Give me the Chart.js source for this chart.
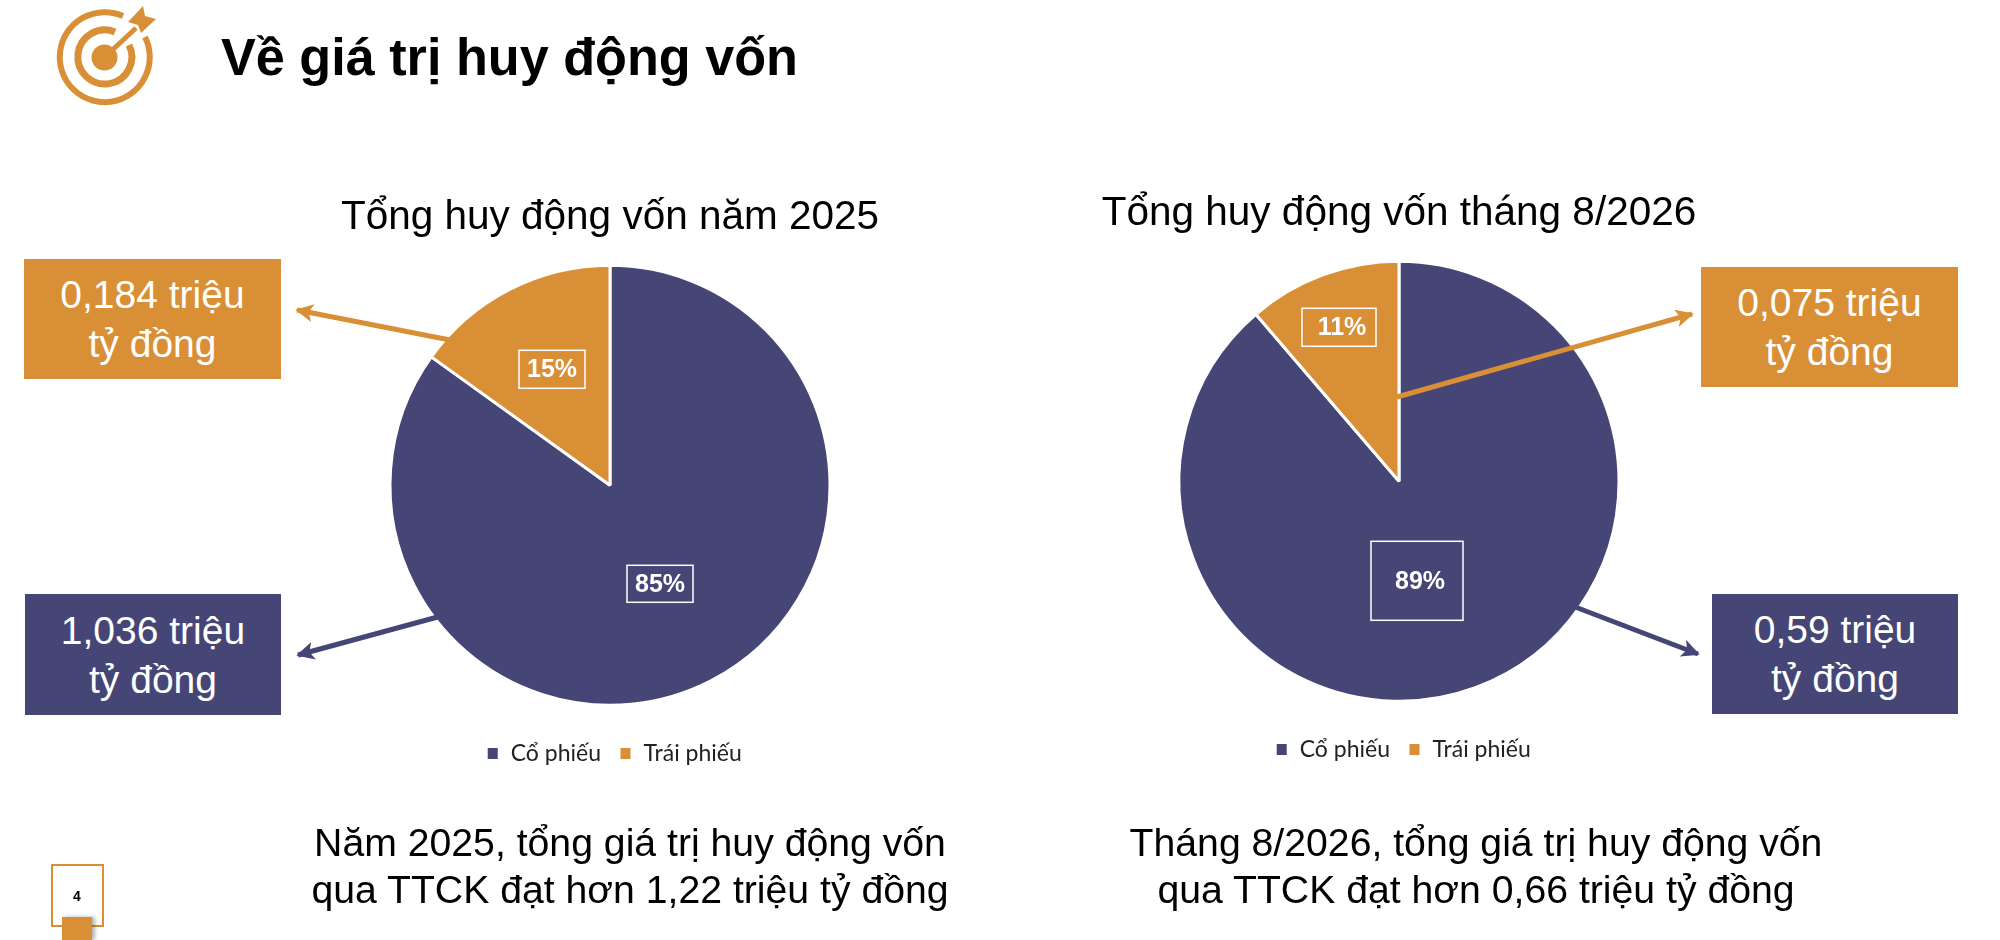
<!DOCTYPE html>
<html lang="vi">
<head>
<meta charset="utf-8">
<title>Về giá trị huy động vốn</title>
<script src="https://cdn.jsdelivr.net/npm/chart.js@4"></script>
<style>
  html, body { margin: 0; padding: 0; background: #fff; }
  body { position: relative; width: 2000px; height: 940px; overflow: hidden; font-family: "Liberation Sans", Arial, sans-serif; color: #000; }
  h1 { position: absolute; left: 221px; top: 26px; margin: 0; font-size: 52.2px; line-height: 62px; font-weight: bold; white-space: nowrap; }
  canvas { position: absolute; }
  .callout { position: absolute; color: #fff; font-size: 39px; line-height: 49px; display: flex; align-items: center; justify-content: center; text-align: center; }
  .note { position: absolute; width: 800px; font-size: 39.2px; line-height: 47px; text-align: center; }
  #pageBox { position: absolute; left: 51px; top: 864px; width: 49px; height: 59px; border: 2px solid #D98F35; box-sizing: content-box; }
  #pageNum { position: absolute; left: 51px; top: 888px; width: 52px; text-align: center; font-size: 14px; font-weight: bold; }
  #pageTab { position: absolute; left: 62px; top: 917px; width: 30px; height: 23px; background: #D98F35; box-shadow: 3px 0 4px rgba(0,0,0,.3); }
  svg { position: absolute; left: 0; top: 0; pointer-events: none; }
</style>
</head>
<body>
<svg id="icon" width="170" height="115" viewBox="0 0 170 115">
  <g fill="none" stroke="#D98F35">
    <path d="M123 16A45 45 0 1 0 145 37" stroke-width="6"/>
    <path d="M115 32A27 27 0 1 0 129 45" stroke-width="7"/>
  </g>
  <circle cx="104.5" cy="57.5" r="13" fill="#D98F35"/>
  <line x1="107" y1="55" x2="136" y2="28" stroke="#D98F35" stroke-width="5"/>
  <polygon points="128,22 143,6 145,16 156,19 141,33 138,25" fill="#D98F35"/>
</svg>
<h1>Về giá trị huy động vốn</h1>

<canvas id="chart2025" style="left:300px;top:180px"></canvas>
<canvas id="chart2026" style="left:1089px;top:176px"></canvas>

<div class="callout" id="bond2025" style="left:24px;top:259px;width:257px;height:120px;background:#D98F35"></div>
<div class="callout" id="stock2025" style="left:25px;top:594px;width:256px;height:121px;background:#454675"></div>
<div class="callout" id="bond2026" style="left:1701px;top:267px;width:257px;height:120px;background:#D98F35"></div>
<div class="callout" id="stock2026" style="left:1712px;top:594px;width:246px;height:120px;background:#454675"></div>

<svg id="arrows" width="2000" height="940" viewBox="0 0 2000 940">
  <defs>
    <marker id="headOrange" viewBox="0 0 10 10" refX="9" refY="5" markerWidth="3.6" markerHeight="3.6" orient="auto">
      <path d="M0 0L10 5L0 10L2.5 5z" fill="#D98F35"/>
    </marker>
    <marker id="headNavy" viewBox="0 0 10 10" refX="9" refY="5" markerWidth="3.6" markerHeight="3.6" orient="auto">
      <path d="M0 0L10 5L0 10L2.5 5z" fill="#454675"/>
    </marker>
  </defs>
  <line x1="455" y1="341" x2="297" y2="310" stroke="#D98F35" stroke-width="5" marker-end="url(#headOrange)"/>
  <line x1="445" y1="615" x2="298" y2="655" stroke="#454675" stroke-width="5" marker-end="url(#headNavy)"/>
  <line x1="1397" y1="397" x2="1692" y2="314" stroke="#D98F35" stroke-width="5" marker-end="url(#headOrange)"/>
  <line x1="1570" y1="605" x2="1698" y2="654" stroke="#454675" stroke-width="5" marker-end="url(#headNavy)"/>
</svg>

<div class="note" style="left:230px;top:819px">Năm 2025, tổng giá trị huy động vốn<br>qua TTCK đạt hơn 1,22 triệu tỷ đồng</div>
<div class="note" style="left:1076px;top:819px">Tháng 8/2026, tổng giá trị huy động vốn<br>qua TTCK đạt hơn 0,66 triệu tỷ đồng</div>

<div id="pageBox"></div>
<div id="pageNum">4</div>
<div id="pageTab"></div>

<script>
// dữ liệu, đơn vị: triệu tỷ đồng
const categories = ["Cổ phiếu", "Trái phiếu"];
const values2025 = [1.036, 0.184];
const values2026 = [0.59, 0.075];
const title2025 = "Tổng huy động vốn năm 2025";
const title2026 = "Tổng huy động vốn tháng 8/2026";

const navy = "#454675";
const orange = "#D98F35";

// khung nhãn % tính từ tâm bánh: [x trái, y trên, rộng, cao, tâm chữ x]
const labelBoxes2025 = [[17, 80, 66, 37, 50], [-91, -135, 66, 38, -58]];
const labelBoxes2026 = [[-28, 60, 92, 79, 21], [-97, -173, 74, 38, -57]];

function money(v) {
  return String(v).replace(".", ",");
}

document.getElementById("stock2025").innerHTML = money(values2025[0]) + " triệu<br>tỷ đồng";
document.getElementById("bond2025").innerHTML = money(values2025[1]) + " triệu<br>tỷ đồng";
document.getElementById("stock2026").innerHTML = money(values2026[0]) + " triệu<br>tỷ đồng";
document.getElementById("bond2026").innerHTML = money(values2026[1]) + " triệu<br>tỷ đồng";

// vẽ nhãn % trong khung trắng
const percentBoxes = {
  id: "percentBoxes",
  afterLayout(chart) {
    // chú thích lệch phải so với tâm bánh
    chart.legend.left += 4;
    chart.legend.right += 4;
  },
  afterDatasetsDraw(chart, args, opts) {
    const ctx = chart.ctx;
    const arc = chart.getDatasetMeta(0).data[0];
    const data = chart.data.datasets[0].data;
    const sum = data.reduce((a, b) => a + b, 0);
    ctx.save();
    ctx.strokeStyle = "#fff";
    ctx.lineWidth = 1.5;
    ctx.fillStyle = "#fff";
    ctx.font = "bold 25px 'Liberation Sans'";
    ctx.textAlign = "center";
    ctx.textBaseline = "middle";
    opts.boxes.forEach((b, i) => {
      const x = arc.x + b[0];
      const y = arc.y + b[1];
      ctx.strokeRect(x, y, b[2], b[3]);
      ctx.fillText(Math.round((data[i] / sum) * 100) + "%", arc.x + b[4], y + b[3] / 2 + 1);
    });
    ctx.restore();
  },
};

function pieChart(id, title, values, boxes) {
  const canvas = document.getElementById(id);
  canvas.width = 620;
  canvas.height = 595;
  canvas.style.width = "620px";
  canvas.style.height = "595px";

  const options = {
    responsive: false,
    animation: false,
    radius: 220,
    plugins: {
      title: {
        display: true,
        text: title,
        color: "#000",
        font: { family: "Liberation Sans", size: 40.5, weight: "normal" },
        padding: { top: 14, bottom: 4 },
      },
      legend: {
        position: "bottom",
        labels: {
          color: "#222",
          font: { family: "Lato", size: 23 },
          boxWidth: 13, // viền trắng ăn bớt ô màu
          boxHeight: 14,
          padding: 18,
        },
      },
      tooltip: { enabled: false },
      percentBoxes: { boxes: boxes },
    },
  };

  return new Chart(canvas.getContext("2d"), {
    type: "pie",
    data: {
      labels: categories,
      datasets: [
        {
          data: values,
          backgroundColor: [navy, orange],
          borderColor: "#fff",
          borderWidth: 3,
        },
      ],
    },
    options: options,
    plugins: [percentBoxes],
  });
}

pieChart("chart2025", title2025, values2025, labelBoxes2025);
pieChart("chart2026", title2026, values2026, labelBoxes2026);
</script>
</body>
</html>
